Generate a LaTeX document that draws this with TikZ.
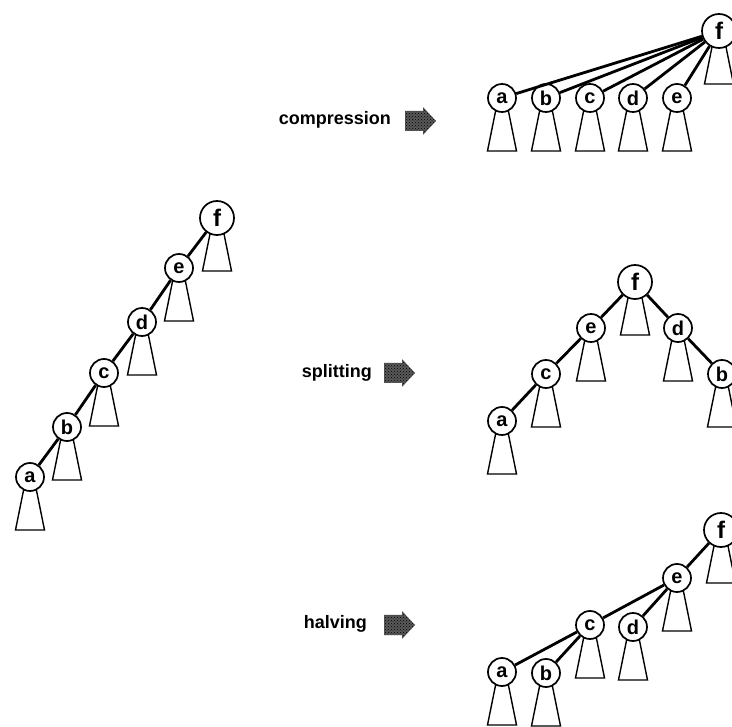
\documentclass[tikz,border=0pt]{standalone}
\usepackage{fontspec}
\setmainfont{Liberation Sans}
\usetikzlibrary{patterns}
\pgfdeclarelayer{back}
\pgfsetlayers{back,main}
\tikzset{
  vtx/.style={circle, draw, line width=1.7pt, fill=white, inner sep=0pt,
    minimum size=28pt, font=\fontsize{20}{20}\selectfont\bfseries},
  root/.style={vtx, minimum size=34pt, font=\fontsize{24}{24}\selectfont\bfseries},
  link/.style={line width=2.8pt},
  tri/.style={line width=1.4pt, line join=miter},
  stub/.pic={\draw[tri] (-6,11) -- (-14.5,53) -- (14.5,53) -- (6,11);},
  lbl/.style={anchor=east, inner sep=0pt, font=\fontsize{18}{18}\selectfont\bfseries},
}
% a subtree: circle node plus the hanging triangle
\newcommand\vnode[4][vtx]{%
  \node[#1] (#2) at (#3) {#4};
  \begin{pgfonlayer}{back}\pic at (#2.center) {stub};\end{pgfonlayer}}
% shaded block arrow: left end x, centre y
\newcommand\arrowpath[2]{(#1,#2-10) -- ++(18,0) -- ++(0,-4) -- ++(13,14) -- ++(-13,14)
     -- ++(0,-4) -- ++(-18,0) -- cycle}
\newcommand\fatarrow[2]{%
  \fill[black!65] \arrowpath{#1}{#2};
  \fill[pattern=crosshatch dots, pattern color=black] \arrowpath{#1}{#2};}
\begin{document}
\begin{tikzpicture}[x=1pt, y=-1pt]
\useasboundingbox (0,0) rectangle (732,727);
\clip (0,0) rectangle (732,727);

% original path a..f
\vnode[root]{Lf}{217,218}{f}
\vnode{Le}{179,268}{e}
\vnode{Ld}{142,322}{d}
\vnode{Lc}{104,373}{c}
\vnode{Lb}{67,427}{b}
\vnode{La}{30,477}{a}
\draw[link] (Lf) -- (Le) -- (Ld) -- (Lc) -- (Lb) -- (La);

% compression
\node[lbl] (tc) at (391,120) {compression};
\fatarrow{405}{121}
\vnode[root]{Cf}{719,31}{f}
\vnode{Ca}{502,98}{a}
\vnode{Cb}{546,98}{b}
\vnode{Cc}{590,98}{c}
\vnode{Cd}{633,98}{d}
\vnode{Ce}{677,98}{e}
\foreach \n in {Ca,Cb,Cc,Cd,Ce} \draw[link] (\n) -- (Cf);

% splitting
\node[lbl] (ts) at (372,373) {splitting};
\fatarrow{384}{373}
\vnode[root]{Sf}{635,282}{f}
\vnode{Se}{591,328}{e}
\vnode{Sd}{678,328}{d}
\vnode{Sc}{546,374}{c}
\vnode{Sb}{722,374}{b}
\vnode{Sa}{502,421}{a}
\draw[link] (Sf) -- (Se) -- (Sc) -- (Sa);
\draw[link] (Sf) -- (Sd) -- (Sb);

% halving
\node[lbl] (th) at (367,624) {halving};
\fatarrow{384}{625}
\vnode[root]{Hf}{721,530}{f}
\vnode{He}{677,578}{e}
\vnode{Hc}{590,625}{c}
\vnode{Hd}{633,627}{d}
\vnode{Ha}{502,672}{a}
\vnode{Hb}{546,673}{b}
\draw[link] (Hf) -- (He) -- (Hc) -- (Ha);
\draw[link] (He) -- (Hd);
\draw[link] (Hc) -- (Hb);
\end{tikzpicture}
\end{document}
